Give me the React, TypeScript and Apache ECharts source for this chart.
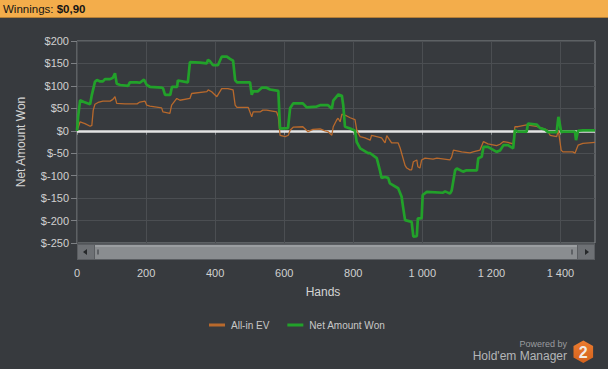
import React, { useEffect, useRef } from "react";
import * as echarts from "echarts";

// ---- data ----
const wonHands = [0,3,9,20,38,43,52,58,67,75,81,96,104,110,115,125,148,153,174,182,194,202,211,246,249,255,270,275,290,292,321,327,356,376,379,385,394,408,419,434,443,452,458,463,501,506,510,524,535,549,559,583,588,611,617,626,654,665,694,704,727,738,742,757,767,771,776,791,805,810,820,843,849,868,877,882,892,901,906,930,940,944,950,969,974,984,987,998,1001,1013,1060,1066,1080,1085,1095,1100,1118,1128,1158,1162,1172,1177,1190,1215,1225,1235,1248,1263,1268,1277,1302,1306,1331,1341,1355,1364,1389,1394,1397,1402,1407,1442,1445,1451,1465,1500];
const wonValues = [0,30,68,64,59,80,109,113,110,110,115,115,118,128,105,102,100,108,108,107,114,102,98,96,95,80,80,98,98,112,108,153,152,150,158,155,146,146,165,165,160,156,113,108,108,80,88,88,96,96,92,89,5,6,50,61,61,52,54,57,57,49,67,81,78,57,9,5,0,-25,-39,-50,-50,-61,-88,-105,-103,-105,-117,-128,-147,-169,-199,-203,-236,-235,-195,-195,-143,-136,-138,-135,-140,-133,-88,-84,-91,-88,-88,-61,-58,-36,-36,-47,-44,-32,-32,-39,1,-2,-2,16,14,6,3,-3,-3,31,20,-3,-2,-2,-21,0,1,1];

const evHands = [0,9,23,38,43,47,52,61,75,96,104,110,115,139,174,182,197,202,211,245,249,269,274,289,298,327,332,376,380,390,405,419,437,452,458,463,496,506,510,530,538,549,578,583,588,603,612,617,626,654,669,683,704,718,727,738,742,752,756,762,767,781,791,805,810,814,820,834,849,853,868,882,892,897,911,930,936,940,950,955,964,969,974,984,987,993,998,1008,1031,1042,1080,1085,1090,1114,1138,1147,1167,1177,1190,1215,1225,1235,1248,1263,1268,1277,1302,1331,1346,1361,1370,1389,1394,1402,1407,1436,1442,1451,1465,1500];
const evValues = [0,20,16,10,12,46,59,63,66,66,70,76,61,60,60,64,66,57,55,51,42,39,57,72,68,72,83,87,91,87,76,94,94,91,57,52,52,31,42,42,46,46,42,31,-10,-13,-10,1,8,9,-2,3,4,0,-2,-10,9,24,28,20,37,33,29,25,2,-5,-13,-16,-21,-10,-13,-16,-27,-11,-27,-27,-39,-50,-77,-83,-87,-87,-69,-65,-80,-83,-65,-61,-63,-61,-65,-58,-43,-47,-49,-47,-43,-24,-29,-33,-30,-24,-26,-29,9,9,13,10,6,2,-10,-13,1,-43,-47,-47,-50,-32,-28,-26];

const xTicks = [0, 200, 400, 600, 800, 1000, 1200, 1400];
const seriesNames = ["All-in EV", "Net Amount Won"];
const winningsLabel = "Winnings:";
const winningsValue = "$0,90";

const FONT = "'Liberation Sans', Arial, sans-serif";

function fmtHands(v: number): string {
  if (v >= 1000) {
    const th = Math.floor(v / 1000);
    const rest = String(v % 1000).padStart(3, "0");
    return `${th} ${rest}`;
  }
  return String(v);
}

export default function App() {
  const ref = useRef<HTMLDivElement>(null);

  useEffect(() => {
    if (!ref.current) return;
    document.body.style.margin = "0";
    const chart = echarts.init(ref.current, undefined, { renderer: "svg" });

    const wonData = wonHands.map((h, i) => [h, wonValues[i]]);
    const evData = evHands.map((h, i) => [h, evValues[i]]);

    const gripColor = "#5e6165";
    const option: any = {
      animation: false,
      backgroundColor: "#373a3e",
      title: {
        text: `${winningsLabel} {b|${winningsValue}}`,
        left: 3,
        top: 2,
        padding: 0,
        textStyle: {
          fontFamily: FONT,
          fontSize: 11.5,
          fontWeight: "normal",
          color: "#151515",
          lineHeight: 14,
          rich: {
            b: { fontFamily: FONT, fontSize: 11.5, fontWeight: "bold", color: "#151515", lineHeight: 14 },
          },
        },
        z: 20,
      },
      grid: {
        left: 77,
        right: 13,
        top: 41,
        bottom: 126,
        show: true,
        borderColor: "#85888b",
        borderWidth: 1,
        backgroundColor: "transparent",
      },
      legend: {
        data: seriesNames,
        top: 315,
        left: 204,
        icon: "rect",
        itemWidth: 16,
        itemHeight: 3,
        itemGap: 18,
        textStyle: { color: "#c8c8c8", fontSize: 10, fontFamily: FONT, padding: [0, 0, 0, 1] },
      },
      xAxis: {
        type: "value",
        min: 0,
        max: 1500,
        interval: 200,
        offset: 18,
        name: "Hands",
        nameLocation: "middle",
        nameGap: 25,
        nameTextStyle: { color: "#d4d4d4", fontSize: 12, fontFamily: FONT, padding: [0, 26, 0, 0] },
        axisLine: { show: true, lineStyle: { color: "#55585c", width: 1 } },
        axisTick: { show: true, length: 4, lineStyle: { color: "#8a8d90" }, customValues: xTicks },
        axisLabel: {
          color: "#d0d0d0",
          fontSize: 11,
          fontFamily: FONT,
          margin: 6,
          customValues: xTicks,
          formatter: (v: number) => fmtHands(v),
        },
        splitLine: { show: true, lineStyle: { color: "#4b4e52", width: 1 } },
      },
      yAxis: {
        type: "value",
        min: -250,
        max: 200,
        interval: 50,
        name: "Net Amount Won",
        nameLocation: "middle",
        nameGap: 50,
        nameTextStyle: { color: "#d4d4d4", fontSize: 12, fontFamily: FONT },
        axisLine: { show: false },
        axisTick: { show: true, length: 6, lineStyle: { color: "#7d8084" } },
        axisLabel: {
          color: "#d0d0d0",
          fontSize: 11,
          fontFamily: FONT,
          margin: 8,
          formatter: (v: number) => `$${v}`,
        },
        splitLine: { show: true, lineStyle: { color: "#4b4e52", width: 1 } },
      },
      series: [
        {
          name: seriesNames[0],
          type: "line",
          data: evData,
          symbol: "none",
          showSymbol: false,
          color: "#b8692c",
          lineStyle: { color: "#b8692c", width: 1.3 },
          z: 2,
          markLine: {
            silent: true,
            symbol: "none",
            z: 2,
            label: { show: false },
            lineStyle: { color: "#e4e4e4", width: 2.5, type: "solid" },
            data: [{ yAxis: 0 }],
          },
        },
        {
          name: seriesNames[1],
          type: "line",
          data: wonData,
          symbol: "none",
          showSymbol: false,
          color: "#22a12a",
          lineStyle: { color: "#22a12a", width: 2.7 },
          z: 3,
        },
      ],
      graphic: [
        // header bar
        { type: "rect", z: 10, shape: { x: 0, y: 0, width: 608, height: 17 }, style: { fill: "#f3ad4b" } },
        { type: "rect", z: 10, shape: { x: 0, y: 17, width: 608, height: 1 }, style: { fill: "#b57f36" } },
        // scrollbar
        { type: "rect", z: 10, shape: { x: 77, y: 243.5, width: 518, height: 16.5 }, style: { fill: "#5a5d61" } },
        { type: "rect", z: 10, shape: { x: 78, y: 245, width: 16, height: 14 }, style: { fill: "#6e7175" } },
        { type: "polygon", z: 11, shape: { points: [[83, 252], [87, 249], [87, 255]] }, style: { fill: "#26282a" } },
        { type: "rect", z: 10, shape: { x: 95, y: 245, width: 482, height: 14 }, style: { fill: "#8a8d90" } },
        { type: "rect", z: 11, shape: { x: 95, y: 245, width: 482, height: 2 }, style: { fill: "#9b9ea1" } },
        { type: "rect", z: 11, shape: { x: 97, y: 249.5, width: 2, height: 5 }, style: { fill: gripColor } },
        { type: "rect", z: 11, shape: { x: 571, y: 249.5, width: 2, height: 5 }, style: { fill: gripColor } },
        { type: "rect", z: 10, shape: { x: 578, y: 245, width: 16, height: 14 }, style: { fill: "#6e7175" } },
        { type: "polygon", z: 11, shape: { points: [[585, 249], [585, 255], [589, 252]] }, style: { fill: "#26282a" } },
        // logo
        {
          type: "text",
          z: 10,
          x: 567,
          y: 344,
          style: { text: "Powered by", fill: "#9a9c9e", font: `9px ${FONT}`, align: "right", verticalAlign: "middle" },
        },
        {
          type: "text",
          z: 10,
          x: 567,
          y: 355.5,
          style: { text: "Hold'em Manager", fill: "#b4b6b8", font: `12px ${FONT}`, align: "right", verticalAlign: "middle" },
        },
        {
          type: "polygon",
          z: 10,
          shape: {
            points: [
              [583.3, 340.4], [593.1, 346.0], [593.1, 357.4],
              [583.3, 363.0], [573.5, 357.4], [573.5, 346.0],
            ],
          },
          style: {
            fill: new echarts.graphic.LinearGradient(0, 0, 0, 1, [
              { offset: 0, color: "#ec7c30" },
              { offset: 1, color: "#d4621c" },
            ]),
          },
        },
        {
          type: "text",
          z: 11,
          x: 583.3,
          y: 352.2,
          style: { text: "2", fill: "#f2ebe4", font: `bold 16px ${FONT}`, align: "center", verticalAlign: "middle" },
        },
      ],
    };

    chart.setOption(option);
    return () => chart.dispose();
  }, []);

  return (
    <div
      ref={ref}
      style={{ position: "fixed", left: 0, top: 0, width: 608, height: 369 }}
    />
  );
}
